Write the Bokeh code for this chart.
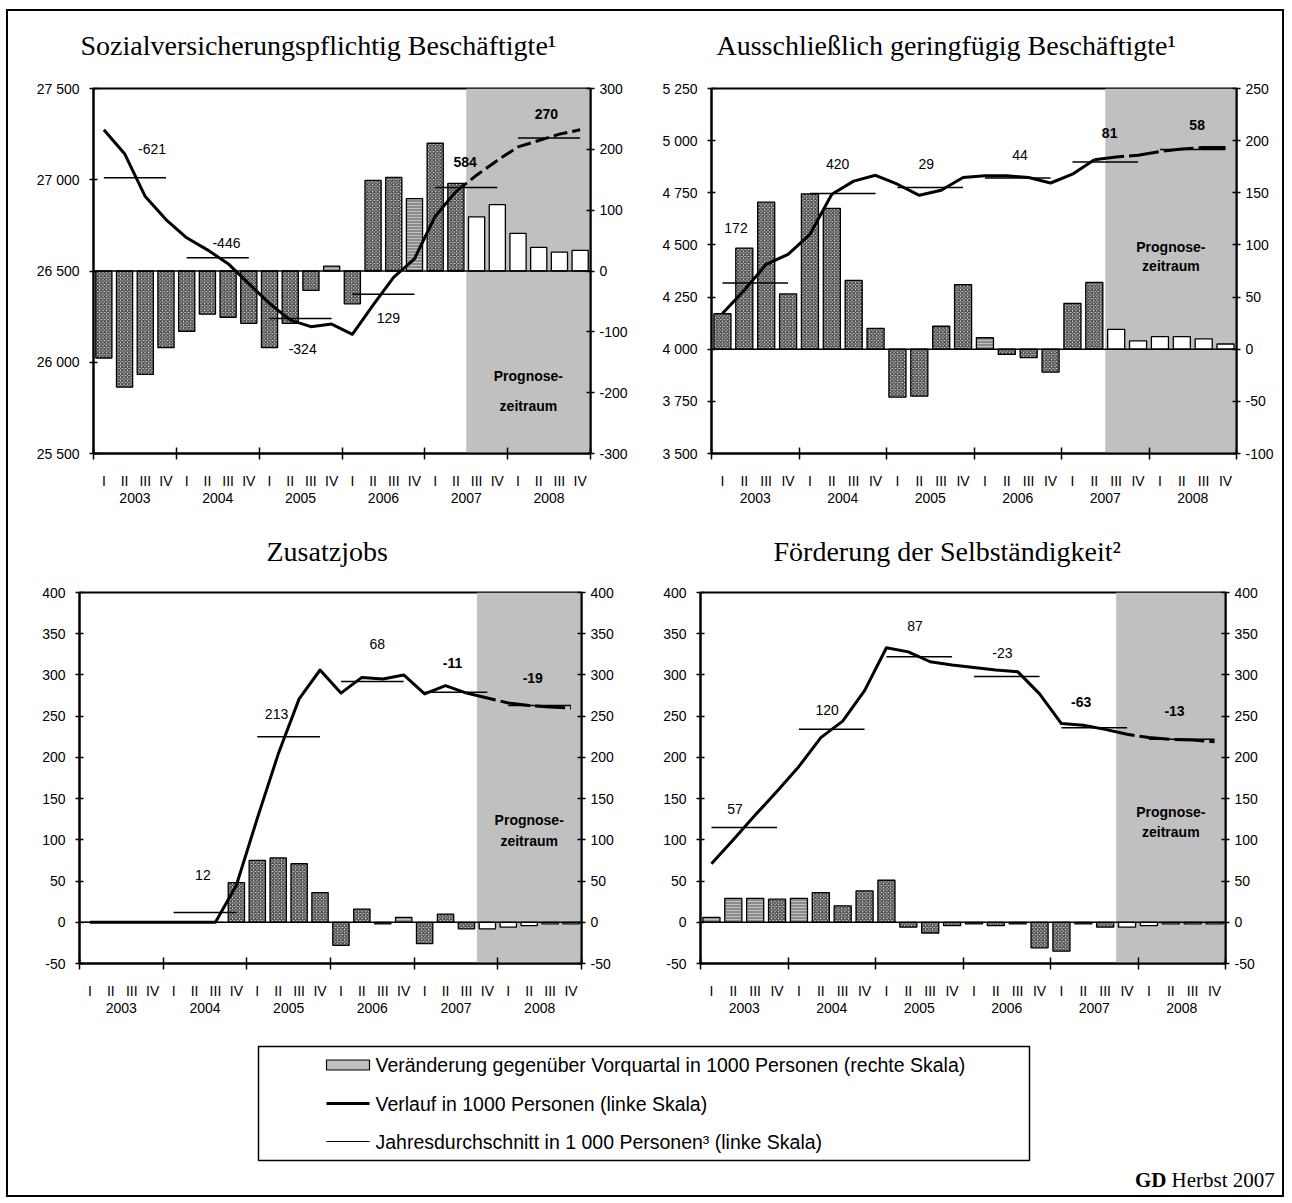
from bokeh.plotting import figure
from bokeh.models import Range1d, LinearAxis, FixedTicker, BoxAnnotation, Span, Title
from bokeh.layouts import column, row
from bokeh.core.properties import value
from bokeh.embed import file_html
from bokeh.resources import INLINE

# ---------------- data ----------------
QUARTERS = ["I", "II", "III", "IV"]
YEARS = ["2003", "2004", "2005", "2006", "2007", "2008"]

# 1) Sozialversicherungspflichtig Beschäftigte
c1_title = "Sozialversicherungspflichtig Beschäftigte¹"
c1_level = [27274, 27143, 26908, 26782, 26682, 26616, 26540, 26431, 26322, 26231, 26195, 26209,
            26153, 26313, 26467, 26567, 26800, 26935, 27025, 27106, 27180, 27215, 27250, 27274]
c1_change = [-143, -191, -170, -126, -99, -71, -76, -86, -126, -86, -32, 8,
             -54, 149, 154, 119, 210, 144, 89, 109, 62, 39, 31, 34]
c1_avg = [27011, 26572, 26240, 26373, 26958, 27229]
c1_avg_label = ["-621", "-446", "-324", "129", "584", "270"]
c1_left_ticks = [25500, 26000, 26500, 27000, 27500]
c1_right_ticks = [-300, -200, -100, 0, 100, 200, 300]
c1_zero = 26500
c1_forecast_start = 18

# 2) Ausschließlich geringfügig Beschäftigte
c2_title = "Ausschließlich geringfügig Beschäftigte¹"
c2_level = [4171, 4283, 4407, 4455, 4551, 4743, 4806, 4834, 4791, 4738, 4762, 4823,
            4832, 4832, 4823, 4797, 4839, 4908, 4922, 4930, 4948, 4960, 4967, 4967]
c2_change = [34, 97, 141, 53, 149, 135, 66, 20, -46, -45, 22, 62,
             11, -5, -8, -22, 44, 64, 19, 8, 12, 12, 10, 5]
c2_avg = [4317, 4746, 4775, 4821, 4898, 4957]
c2_avg_label = ["172", "420", "29", "44", "81", "58"]
c2_left_ticks = [3500, 3750, 4000, 4250, 4500, 4750, 5000, 5250]
c2_right_ticks = [-100, -50, 0, 50, 100, 150, 200, 250]
c2_zero = 4000
c2_forecast_start = 18

# 3) Zusatzjobs
c3_title = "Zusatzjobs"
c3_level = [0, 0, 0, 0, 0, 0, 0, 45, 126, 204, 271, 306,
            278, 297, 295, 300, 277, 287, 278, 272, 266, 263, 261, 260]
c3_change = [0, 0, 0, 0, 0, 0, 0, 48, 75, 78, 71, 36,
             -28, 16, -2, 6, -26, 10, -8, -8, -6, -4, -2, -2]
c3_avg = [0, 12, 225, 292, 279, 263]
c3_avg_label = ["", "12", "213", "68", "-11", "-19"]
c3_left_ticks = [-50, 0, 50, 100, 150, 200, 250, 300, 350, 400]
c3_right_ticks = [-50, 0, 50, 100, 150, 200, 250, 300, 350, 400]
c3_zero = 0
c3_forecast_start = 19

# 4) Förderung der Selbständigkeit
c4_title = "Förderung der Selbständigkeit²"
c4_level = [71, 100, 130, 159, 189, 224, 244, 281, 333, 328, 316, 312,
            309, 306, 304, 277, 241, 239, 234, 228, 224, 222, 221, 219]
c4_change = [6, 29, 29, 28, 29, 36, 20, 38, 51, -6, -13, -4,
             -2, -4, -2, -31, -35, -2, -6, -6, -4, -2, -2, -2]
c4_avg = [115, 234, 322, 298, 236, 222]
c4_avg_label = ["57", "120", "87", "-23", "-63", "-13"]
c4_left_ticks = [-50, 0, 50, 100, 150, 200, 250, 300, 350, 400]
c4_right_ticks = [-50, 0, 50, 100, 150, 200, 250, 300, 350, 400]
c4_zero = 0
c4_forecast_start = 19

LEGEND_TEXTS = ["Veränderung gegenüber Vorquartal in 1000 Personen (rechte Skala)",
                "Verlauf in 1000 Personen (linke Skala)",
                "Jahresdurchschnitt in 1 000 Personen³ (linke Skala)"]
FOOTER_BOLD = "GD"
FOOTER_TEXT = "Herbst 2007"
FORECAST_TEXT = ["Prognose-", "zeitraum"]

# ---------------- layout / style (not data) ----------------
FONT = "Liberation Sans"
SERIF = "Liberation Serif"
FW, FH = 637, 510

L1 = dict(bl=85, br=55, bt=77, bb=68, title_off=-13, title_so=15,
          lab_x=[2.83, 6.42, 10.1, 14.24, 17.95, 21.87],
          lab_y=[27171, 26656, 26070, 26245, 27100, 27363], prog_y=[25927, 25763], dash="14 5",
          dark=[11, 15])
L2 = dict(bl=66, br=46, bt=77, bb=68, title_off=5, title_so=15,
          lab_x=[1.12, 5.77, 9.82, 14.1, 18.2, 22.2],
          lab_y=[4579, 4890, 4890, 4929, 5039, 5077], prog_y=[4488, 4401], dash="30 5",
          dark=[12])
L3 = dict(bl=71, br=64, bt=71, bb=68, title_off=187, title_so=12,
          lab_x=[1.5, 5.9, 9.42, 14.24, 17.83, 21.67],
          lab_y=[0, 57, 253, 337, 315, 296], prog_y=[123.5, 99], dash="30 5",
          dark=[15])
L4 = dict(bl=55, br=57, bt=71, bb=68, title_off=73, title_so=12,
          lab_x=[1.58, 5.79, 9.81, 13.8, 17.4, 21.67],
          lab_y=[137, 257, 359, 327, 267, 256], prog_y=[134, 110], dash="30 5",
          dark=[0, 1, 2, 4])


def fmt(v):
    return f"{v:,}".replace(",", " ") if abs(v) >= 1000 else str(v)


def make_chart(title, level, change, avg, avg_label, lticks, rticks, zero, fc_start, L):
    n = len(level)
    xs = [i + 0.5 for i in range(n)]
    p = figure(width=FW, height=FH, x_range=Range1d(0, n),
               y_range=Range1d(lticks[0], lticks[-1]),
               x_axis_location=None, y_axis_location=None,
               toolbar_location=None, output_backend="svg",
               min_border_left=L["bl"], min_border_right=L["br"],
               min_border_top=L["bt"], min_border_bottom=L["bb"])
    p.title = Title(text=title, align="left", offset=L["title_off"], standoff=L["title_so"],
                    text_font=SERIF, text_font_size="28px", text_font_style="normal",
                    text_color="black")
    # empty spacer between frame and title
    p.add_layout(Title(text=" ", text_font_size="13px", standoff=3), "above")
    p.grid.visible = False
    p.outline_line_color = "black"
    p.outline_line_width = 2
    p.background_fill_color = "white"
    p.border_fill_color = "white"
    p.extra_y_ranges = {"chg": Range1d(rticks[0], rticks[-1])}

    # axes
    left = LinearAxis(ticker=FixedTicker(ticks=lticks, minor_ticks=[]),
                      major_label_overrides={t: fmt(t) for t in lticks})
    right = LinearAxis(y_range_name="chg", ticker=FixedTicker(ticks=rticks, minor_ticks=[]),
                       major_label_overrides={t: fmt(t) for t in rticks})
    for ax, so in ((left, 10), (right, 5)):
        ax.major_tick_in = 4
        ax.major_tick_out = 4
        ax.major_tick_line_width = 1.5
        ax.minor_tick_line_color = None
        ax.axis_line_width = 2
        ax.major_label_standoff = so
        ax.major_label_text_font = FONT
        ax.major_label_text_font_size = "14px"
        ax.major_label_text_color = "black"
    p.add_layout(left, "left")
    p.add_layout(right, "right")

    qticks = xs
    bounds = [4 * k for k in range(len(YEARS) + 1)]
    qaxis = LinearAxis(ticker=FixedTicker(ticks=qticks, minor_ticks=bounds),
                       major_label_overrides={x: QUARTERS[i % 4] for i, x in enumerate(qticks)})
    qaxis.major_tick_line_color = None
    qaxis.major_tick_in = 0
    qaxis.major_tick_out = 0
    qaxis.minor_tick_in = 6
    qaxis.minor_tick_out = 6
    qaxis.minor_tick_line_width = 1.5
    qaxis.minor_tick_line_color = "black"
    qaxis.axis_line_width = 2
    qaxis.major_label_standoff = 13
    qaxis.major_label_text_font = FONT
    qaxis.major_label_text_font_size = "14px"
    qaxis.major_label_text_color = "black"
    p.add_layout(qaxis, "below")

    yticks = [4 * k + 2 for k in range(len(YEARS))]
    yaxis = LinearAxis(ticker=FixedTicker(ticks=yticks, minor_ticks=[]),
                       major_label_overrides={t: YEARS[k] for k, t in enumerate(yticks)})
    yaxis.axis_line_color = None
    yaxis.major_tick_line_color = None
    yaxis.minor_tick_line_color = None
    yaxis.major_tick_in = 0
    yaxis.major_tick_out = 0
    yaxis.major_label_standoff = 1
    yaxis.major_label_text_font = FONT
    yaxis.major_label_text_font_size = "14px"
    yaxis.major_label_text_color = "black"
    p.add_layout(yaxis, "below")

    # forecast shading
    p.add_layout(BoxAnnotation(left=fc_start, right=n, fill_color="#c0c0c0", fill_alpha=1.0,
                               line_color=None, level="underlay"))

    # bars
    hist = [i for i in range(n) if i < fc_start and i not in L["dark"]]
    dark = [i for i in range(n) if i < fc_start and i in L["dark"]]
    fc = [i for i in range(n) if i >= fc_start]

    def bars(idx, **kw):
        p.vbar(x=[xs[i] for i in idx], top=[change[i] for i in idx], bottom=0, width=0.78,
               y_range_name="chg", line_color="black", line_width=1.3, **kw)

    bars(hist, fill_color="#cccccc", hatch_pattern="diagonal_cross", hatch_color="#262626",
         hatch_scale=3.5, hatch_weight=1)
    bars(dark, fill_color="#8c8c8c", hatch_pattern="horizontal_line", hatch_color="#c0c0c0",
         hatch_scale=3, hatch_weight=1)
    bars(fc, fill_color="white")

    p.add_layout(Span(location=zero, dimension="width", line_color="black", line_width=1.5))

    # annual averages
    p.segment(x0=[4 * k + 0.5 for k in range(len(avg))], x1=[4 * k + 3.5 for k in range(len(avg))],
              y0=avg, y1=avg, line_color="black", line_width=1.5)

    # level line: solid for actual, dashed for forecast
    last = fc_start - 1
    p.line(xs[:last + 1], level[:last + 1], line_color="black", line_width=3, line_join="round")
    p.line(xs[last:], level[last:], line_color="black", line_width=3, line_join="round",
           line_dash=L["dash"])

    # labels of annual change
    norm = [k for k in range(len(avg)) if 4 * k + 3 < fc_start and avg_label[k]]
    bold = [k for k in range(len(avg)) if 4 * k + 3 >= fc_start and avg_label[k]]
    for ks, style in ((norm, "normal"), (bold, "bold")):
        p.text(x=[L["lab_x"][k] for k in ks], y=[L["lab_y"][k] for k in ks],
               text=[avg_label[k] for k in ks], text_align="center", text_baseline="middle",
               text_font=value(FONT), text_font_size="14px", text_font_style=style,
               text_color="black")

    # forecast caption
    cx = (fc_start + n) / 2
    p.text(x=[cx, cx], y=L["prog_y"], text=FORECAST_TEXT, text_align="center",
           text_baseline="middle", text_font=value(FONT), text_font_size="14px",
           text_font_style="bold", text_color="black")
    return p


f1 = make_chart(c1_title, c1_level, c1_change, c1_avg, c1_avg_label, c1_left_ticks,
                c1_right_ticks, c1_zero, c1_forecast_start, L1)
f2 = make_chart(c2_title, c2_level, c2_change, c2_avg, c2_avg_label, c2_left_ticks,
                c2_right_ticks, c2_zero, c2_forecast_start, L2)
f3 = make_chart(c3_title, c3_level, c3_change, c3_avg, c3_avg_label, c3_left_ticks,
                c3_right_ticks, c3_zero, c3_forecast_start, L3)
f4 = make_chart(c4_title, c4_level, c4_change, c4_avg, c4_avg_label, c4_left_ticks,
                c4_right_ticks, c4_zero, c4_forecast_start, L4)

# ---------------- legend + footer ----------------
LW, LH = 2 * FW, 164
leg = figure(width=LW, height=LH, x_range=Range1d(0, LW), y_range=Range1d(LH, 0),
             x_axis_location=None, y_axis_location=None, toolbar_location=None,
             output_backend="svg", min_border=0)
leg.grid.visible = False
leg.outline_line_color = None
leg.border_fill_color = "white"
rows_y = [33.5, 72, 110]
leg.quad(left=[250], right=[1021], top=[15], bottom=[129], fill_color=None,
         line_color="black", line_width=1.5)
leg.quad(left=[318], right=[361], top=[rows_y[0] - 5], bottom=[rows_y[0] + 5],
         fill_color="#c0c0c0", line_color="black", line_width=1.2)
leg.segment(x0=[318], x1=[361], y0=[rows_y[1]], y1=[rows_y[1]], line_color="black", line_width=3)
leg.segment(x0=[318], x1=[361], y0=[rows_y[2]], y1=[rows_y[2]], line_color="black", line_width=1.2)
leg.text(x=[367] * 3, y=rows_y, text=LEGEND_TEXTS, text_baseline="middle", text_align="left",
         text_font=value(FONT), text_font_size="19.5px", text_color="black")
leg.text(x=[1158], y=[148], text=[FOOTER_BOLD], text_align="right", text_baseline="alphabetic",
         text_font=value(SERIF), text_font_size="21px", text_font_style="bold", text_color="black")
leg.text(x=[1163], y=[148], text=[FOOTER_TEXT], text_align="left", text_baseline="alphabetic",
         text_font=value(SERIF), text_font_size="21px", text_color="black")

page = column(row(f1, f2), row(f3, f4), leg, width=LW + 4, height=2 * FH + LH + 4,
              margin=(9, 0, 0, 6), styles={"border": "2px solid black"})

open("out.html", "w").write(file_html(page, INLINE))
